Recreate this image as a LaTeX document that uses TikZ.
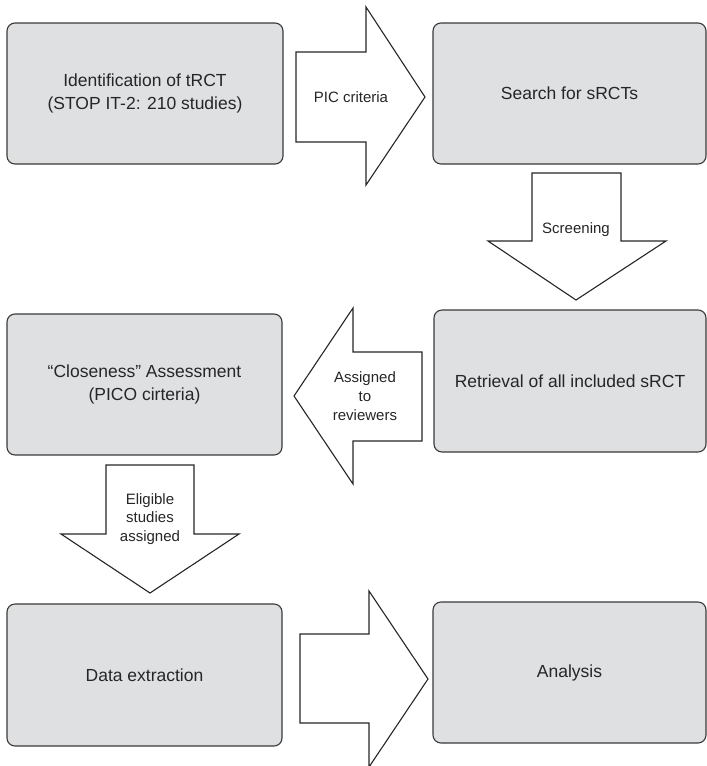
\documentclass[tikz,border=0pt]{standalone}
\usepackage{fontspec}
\setmainfont{Liberation Sans}
\definecolor{boxfill}{HTML}{DFE0E2}
\definecolor{boxline}{HTML}{3A3A3A}
\definecolor{txt}{HTML}{262626}
\begin{document}
\begin{tikzpicture}[x=1pt,y=-1pt,
  box/.style={draw=boxline, fill=boxfill, line width=1.1pt, rounded corners=8pt,
    align=center, text=txt, font=\fontsize{17.5}{23}\selectfont, inner sep=0pt},
  blockarrow/.style={draw=black!85, fill=white, line width=1.1pt, line join=miter},
  alabel/.style={align=center, text=txt, font=\fontsize{15}{18.7}\selectfont, inner sep=0pt}]
\useasboundingbox (0,0) rectangle (707,766);
% boxes
\node[box, minimum width=276pt, minimum height=141pt] (b1) at (145,93.5)
  {Identification of tRCT\\(STOP IT-2: 210 studies)};
\node[box, minimum width=273pt, minimum height=141pt] (b2) at (569.5,93.5)
  {Search for sRCTs};
\node[box, minimum width=272pt, minimum height=142pt] (b3) at (570,381)
  {Retrieval of all included sRCT};
\node[box, minimum width=275pt, minimum height=141pt] (b4) at (144.5,384.5)
  {“Closeness” Assessment\\(PICO cirteria)};
\node[box, minimum width=275pt, minimum height=142pt] (b5) at (144.5,675)
  {Data extraction};
\node[box, minimum width=273pt, minimum height=141pt] (b6) at (569.5,672.5)
  {Analysis};
% block arrows
\draw[blockarrow] (296,52) -- (366,52) -- (366,7) -- (425,97) -- (366,185) -- (366,142) -- (296,142) -- cycle;
\node[alabel] (l1) at (351,97) {PIC criteria};
\draw[blockarrow] (532,173) -- (621,173) -- (621,241) -- (666,241) -- (576,300) -- (488,241) -- (532,241) -- cycle;
\node[alabel] (l2) at (576,230) {Screening};
\draw[blockarrow] (422,352) -- (353,352) -- (353,308) -- (294,396) -- (353,484) -- (353,441) -- (422,441) -- cycle;
\node[alabel] (l3) at (365,396) {Assigned\\to\\reviewers};
\draw[blockarrow] (106,465) -- (194,465) -- (194,534) -- (239,534) -- (150,593) -- (61,534) -- (106,534) -- cycle;
\node[alabel] (l4) at (150,519) {Eligible\\studies\\assigned};
\draw[blockarrow] (300,634) -- (369,634) -- (369,591) -- (428,679) -- (369,767) -- (369,723) -- (300,723) -- cycle;
\end{tikzpicture}
\end{document}
